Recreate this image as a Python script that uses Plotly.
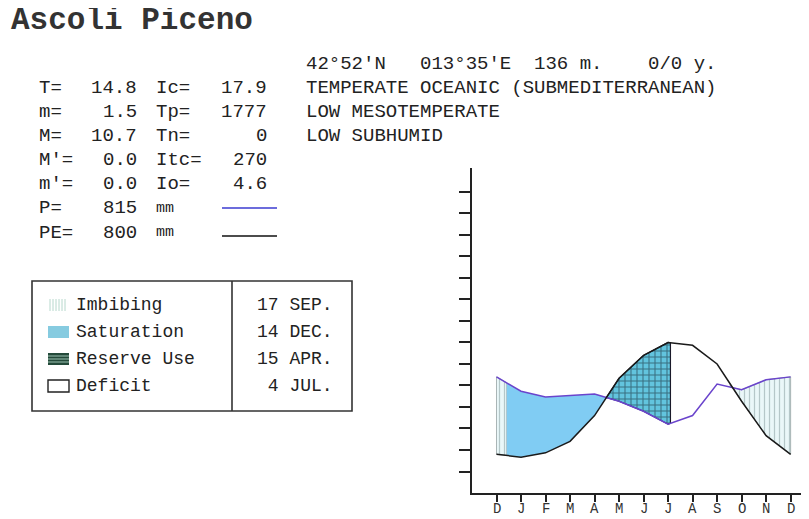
import numpy as np
import plotly.graph_objects as go

# The page is shown with the browser's default 8px body margin, so the figure is
# made 8px smaller and every screen position is shifted by that margin.
W, H = 809, 519
OFF = 8
FW, FH = W - OFF, H - OFF

# ---------------- data ----------------
months = ["D", "J", "F", "M", "A", "M", "J", "J", "A", "S", "O", "N", "D"]
precip = [81, 71, 67, 68, 69, 64, 57, 48, 54, 76, 72, 79, 81]      # P (mm), purple line
pet = [27, 25, 28, 36, 54, 80, 96, 105, 103, 90, 64, 40, 27]        # PE (mm), black line
y_ticks = [15, 30, 45, 60, 75, 90, 105, 120, 135, 150, 165, 180, 195, 210]

title = "Ascoli Piceno"
info_lines = ["42°52'N   013°35'E  136 m.    0/0 y.",
              "TEMPERATE OCEANIC (SUBMEDITERRANEAN)",
              "LOW MESOTEMPERATE",
              "LOW SUBHUMID"]
stat_names_1 = ["T=", "m=", "M=", "M'=", "m'=", "P=", "PE="]
stat_vals_1 = ["14.8", "1.5", "10.7", "0.0", "0.0", "815", "800"]
stat_names_2 = ["Ic=", "Tp=", "Tn=", "Itc=", "Io=", "mm", "mm"]
stat_vals_2 = ["17.9", "1777", "0", "270", "4.6", "", ""]

phase_names = ["Imbibing", "Saturation", "Reserve Use", "Deficit"]
phase_dates = ["17 SEP.", "14 DEC.", "15 APR.", " 4 JUL."]
# phase start dates as (month index from the first D tick, day of month, days in month)
phase_start = [(9, 17, 30), (0, 14, 31), (4, 15, 30), (7, 4, 31)]

# ---------------- helpers ----------------
MONO = "Liberation Mono, Courier New, DejaVu Sans Mono, monospace"
nb = lambda s: s.replace(" ", "\u00a0")
fx = lambda px: (px - OFF) / FW          # screen px -> paper
fy = lambda py: 1 - (py - OFF) / FH

t = np.arange(len(months))
pos = [m + (d - 1) / n for (m, d, n) in phase_start]
imb_a, sat_a, res_a, def_a = pos


def band(a, b, top, bottom):
    xs = [a] + [float(i) for i in t if a < i < b] + [b]
    yt = np.interp(xs, t, top)
    yb = np.interp(xs, t, bottom)
    X = xs + xs[::-1] + [xs[0]]
    Y = list(yt) + list(yb[::-1]) + [yt[0]]
    return X, Y


def text(px, py, s, anchor="left", size=19, bold=False, color="#222222"):
    f = dict(family=MONO, size=size, color=color)
    if bold:
        f["weight"] = "bold"
    return dict(x=fx(px), y=fy(py), xref="paper", yref="paper", text=nb(s), xanchor=anchor,
                yanchor="middle", font=f, showarrow=False, borderpad=0)


def pline(x0, y0, x1, y1, color, width):
    return dict(type="line", xref="paper", yref="paper", x0=fx(x0), x1=fx(x1), y0=fy(y0), y1=fy(y1),
                line=dict(color=color, width=width))


def prect(x0, y0, x1, y1, fill, color=None, width=0):
    return dict(type="rect", xref="paper", yref="paper", x0=fx(x0), x1=fx(x1), y0=fy(y0), y1=fy(y1),
                fillcolor=fill, line=dict(color=color or "rgba(0,0,0,0)", width=width))


fig = go.Figure()

# Imbibing (vertical hatch): from imb_a to end, and start to sat_a
x1, y1 = band(imb_a, 12, precip, pet)
x2, y2 = band(0, sat_a, precip, pet)
fig.add_trace(go.Scatter(
    x=x1 + [None] + x2, y=y1 + [None] + y2, mode="lines", fill="toself",
    line=dict(color="rgba(110,125,125,0.7)", width=0.8),
    fillcolor="rgba(0,0,0,0)",
    fillpattern=dict(shape="|", size=5, solidity=0.25, fgcolor="#7f9899", bgcolor="#eaf7f9"),
    hoverinfo="skip", showlegend=False))

# Saturation (solid light blue)
xs_, ys_ = band(sat_a, res_a, precip, pet)
fig.add_trace(go.Scatter(
    x=xs_, y=ys_, mode="lines", fill="toself", line=dict(width=0),
    fillcolor="#80ccf3", hoverinfo="skip", showlegend=False))

# Reserve use (grid)
xr, yr = band(res_a, def_a, pet, precip)
fig.add_trace(go.Scatter(
    x=xr, y=yr, mode="lines", fill="toself", line=dict(color="#1a1a2a", width=1.2),
    fillcolor="#5ec2dc",
    fillpattern=dict(shape="+", size=6, solidity=0.32, fgcolor="#101a24", bgcolor="#62c4de"),
    hoverinfo="skip", showlegend=False))

# Lines
fig.add_trace(go.Scatter(x=t, y=precip, mode="lines",
                         line=dict(color="#6a44cc", width=1.5), hoverinfo="skip", showlegend=False))
fig.add_trace(go.Scatter(x=t, y=pet, mode="lines",
                         line=dict(color="#1a1a1a", width=1.5), hoverinfo="skip", showlegend=False))

ann = []
shapes = []

# Title
ann.append(text(10, 21, title, size=31, bold=True, color="#333333"))

# Stats block rows
row_y = [88, 112, 136, 160, 184, 208, 233]

# Info lines (right column, sharing the row grid)
info_y = [64, 88, 112, 136]
for i, s in enumerate(info_lines):
    ann.append(text(305, info_y[i], s))

for i in range(len(stat_names_1)):
    yy = row_y[i]
    ann.append(text(38, yy, stat_names_1[i]))
    ann.append(text(138, yy, stat_vals_1[i], anchor="right"))
    ann.append(text(155, yy, stat_names_2[i], size=19 if stat_names_2[i] != "mm" else 15))
    if stat_vals_2[i]:
        ann.append(text(268, yy, stat_vals_2[i], anchor="right"))

shapes.append(pline(222, 208, 277, 208, "#3b3bd0", 1.5))
shapes.append(pline(222, 236, 277, 236, "#111111", 1.5))

# Legend box
bx0, bx1, by0, by1, bdiv = 32, 352, 281, 411, 232
shapes.append(prect(bx0, by0, bx1, by1, "rgba(0,0,0,0)", "#333333", 1.6))
shapes.append(pline(bdiv, by0, bdiv, by1, "#333333", 1.6))
item_y = [305, 332, 359, 386]
for i, name in enumerate(phase_names):
    ann.append(text(75, item_y[i], name, size=18))
    ann.append(text(256, item_y[i], phase_dates[i], size=18))

# legend icons
ix0, ix1 = 48, 69
for k in range(6):
    xx = 50 + 3 * k
    shapes.append(pline(xx, item_y[0] - 6, xx, item_y[0] + 6, "#b6d8cc", 1))
shapes.append(prect(ix0, item_y[1] - 6, ix1, item_y[1] + 6, "#86cbe0"))
shapes.append(prect(ix0, item_y[2] - 6, ix1, item_y[2] + 6, "#244a3a"))
for k in range(3):
    yy = item_y[2] - 3 + 3 * k
    shapes.append(pline(ix0, yy, ix1, yy, "#9cc2b2", 1))
shapes.append(prect(ix0, item_y[3] - 6, ix1, item_y[3] + 6, "white", "#222222", 1.4))

# month labels under the x ticks (placed on the x data scale)
for i, m in enumerate(months):
    ann.append(dict(x=float(t[i]), y=fy(509), xref="x", yref="paper", text=m, xanchor="center",
                    yanchor="middle", showarrow=False, borderpad=0,
                    font=dict(family=MONO, size=14, color="#333333")))

# ---------------- axes ----------------
ax_left, ax_bottom, ax_top = 472, 493, 168
fig.update_layout(
    width=FW, height=FH, margin=dict(l=0, r=0, t=0, b=0),
    paper_bgcolor="white", plot_bgcolor="white",
    annotations=ann, shapes=shapes, showlegend=False,
    xaxis=dict(domain=[fx(ax_left), 1], range=[-1.0, 12.75], tickvals=list(t),
               showticklabels=False,
               showline=True, linecolor="#222222", linewidth=2, ticks="outside", ticklen=7, tickwidth=2,
               tickcolor="#222222", showgrid=False, zeroline=False),
    yaxis=dict(domain=[fy(ax_bottom), fy(ax_top)], range=[0, 226.7], tickvals=y_ticks,
               showticklabels=False, showline=True, linecolor="#222222", linewidth=2, ticks="outside",
               ticklen=11, tickwidth=2, tickcolor="#222222", showgrid=False, zeroline=False),
)

fig.write_html("out.html")
